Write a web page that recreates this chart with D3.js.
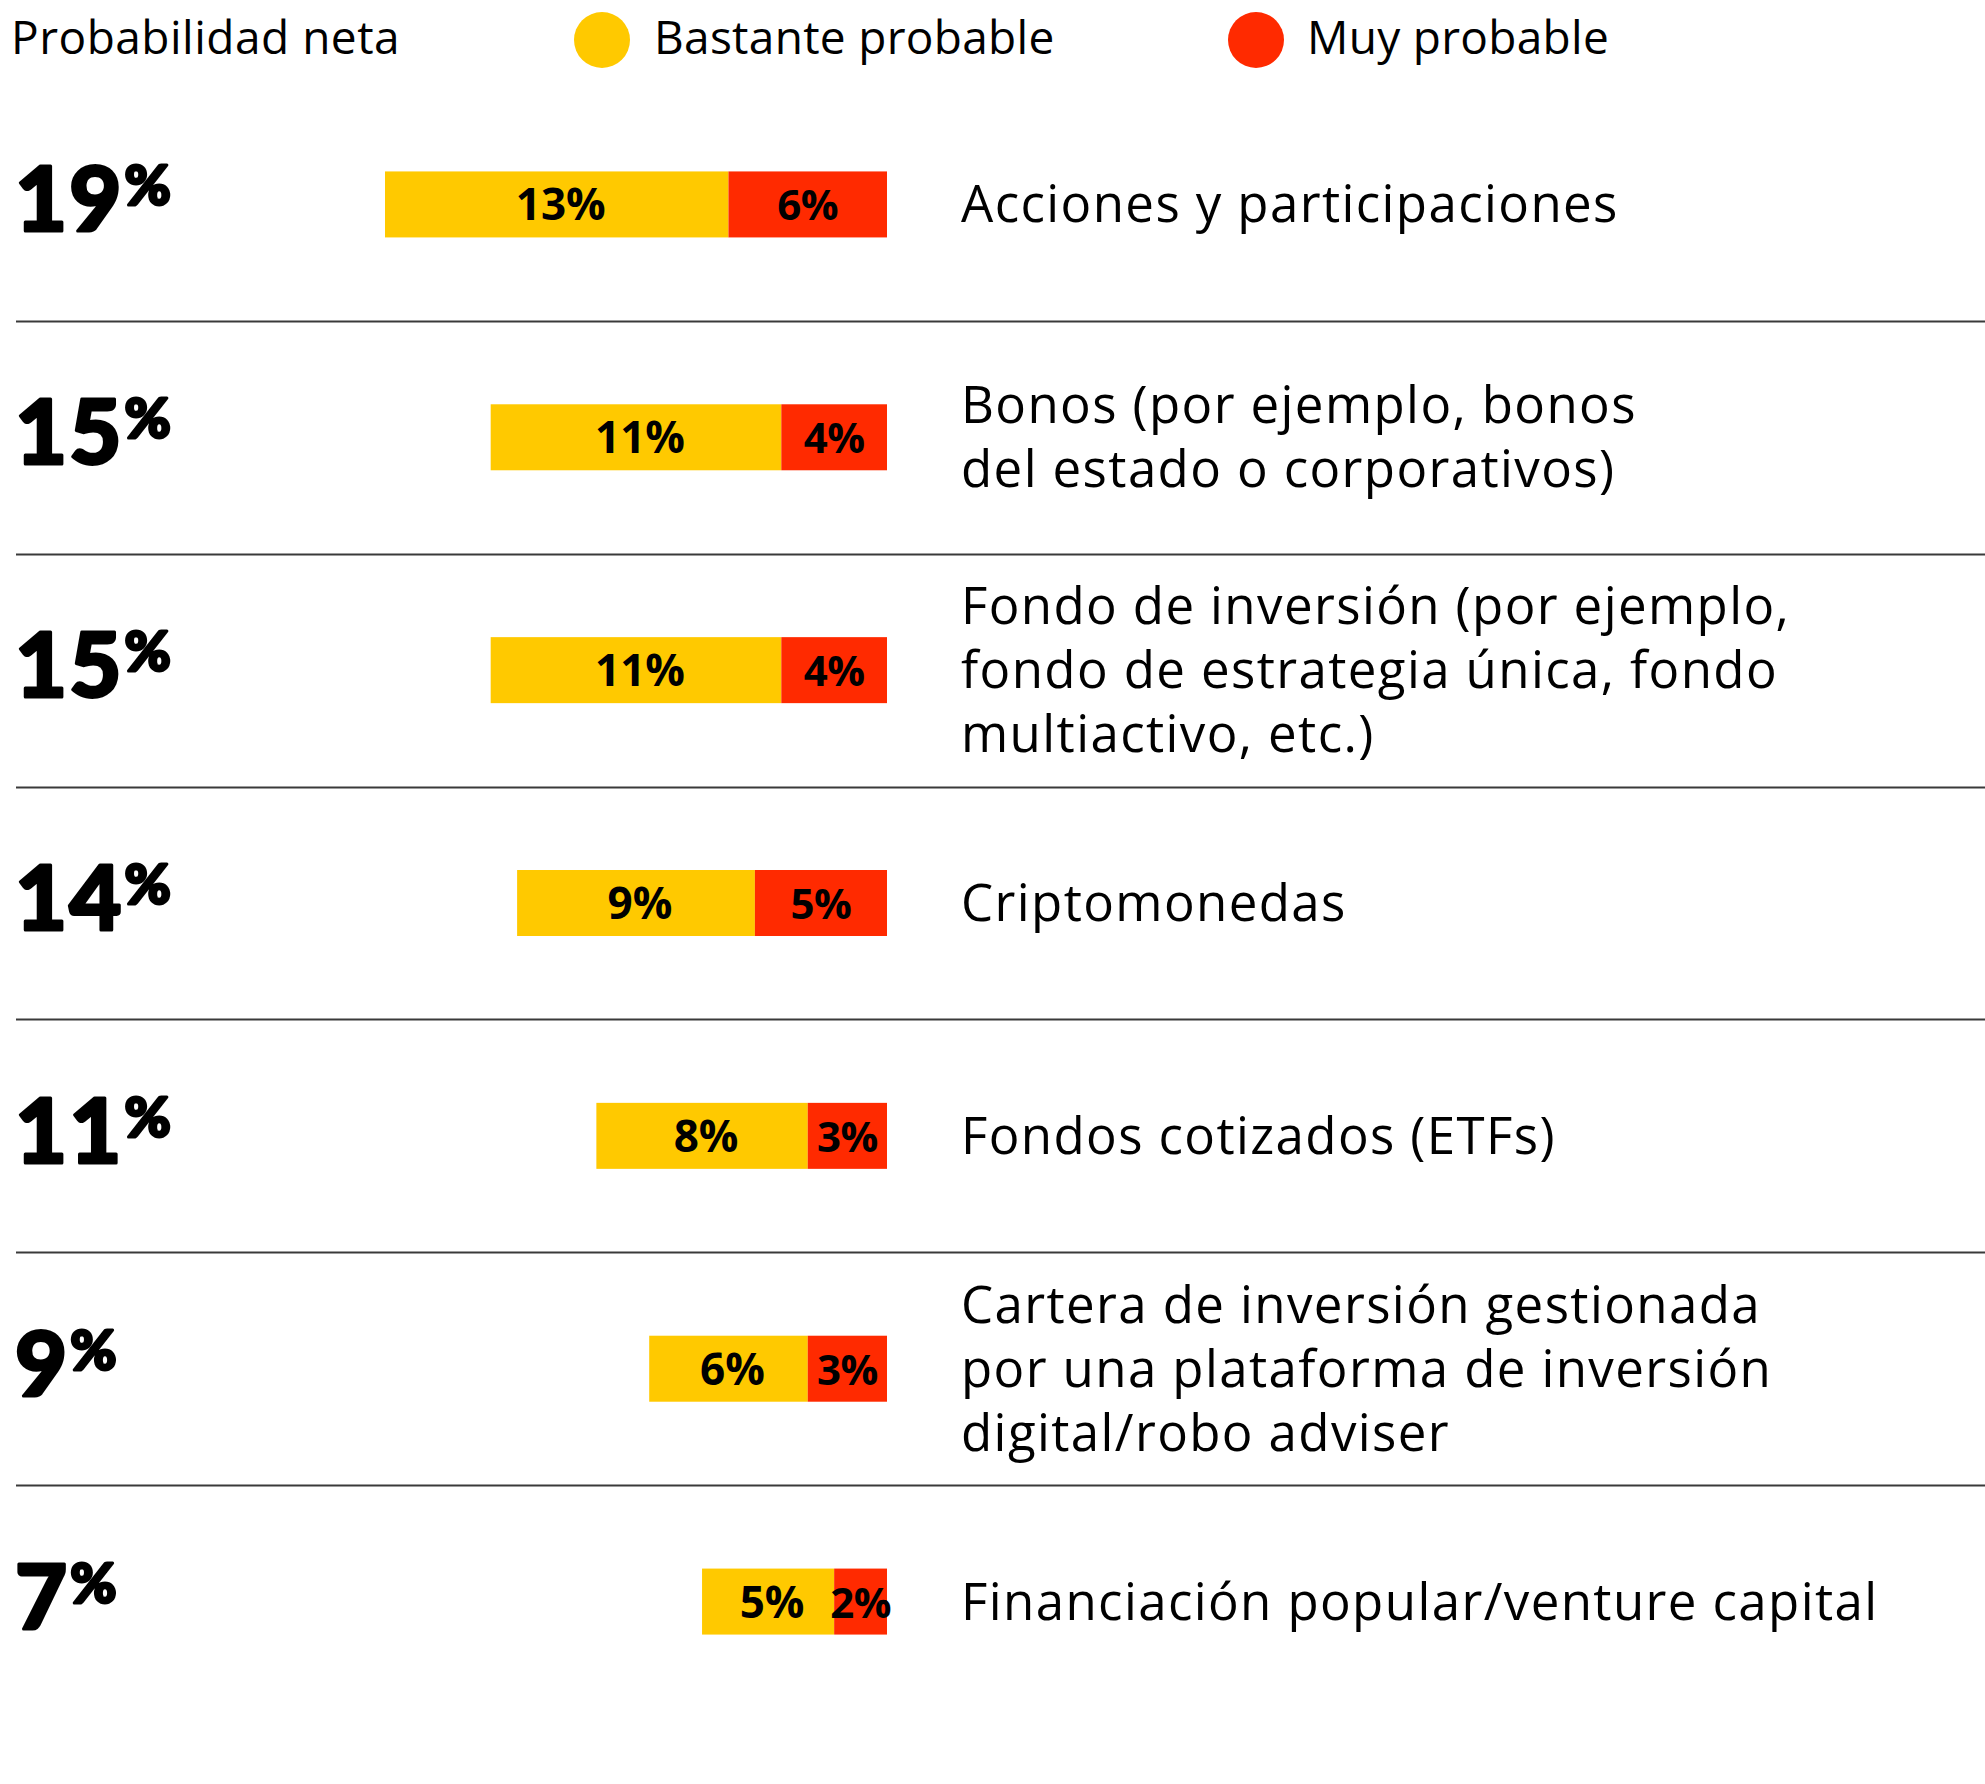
<!DOCTYPE html>
<html>
<head>
<meta charset="utf-8">
<script src="https://cdn.jsdelivr.net/npm/d3@7"></script>
<style>
  html, body { margin: 0; padding: 0; background: #fff; }
  svg { display: block; }
</style>
</head>
<body>
<svg id="chart" width="1985" height="1784"></svg>
<script>
// ---- data ----
const categories = [
  "Acciones y participaciones",
  "Bonos (por ejemplo, bonos|del estado o corporativos)",
  "Fondo de inversión (por ejemplo,|fondo de estrategia única, fondo|multiactivo, etc.)",
  "Criptomonedas",
  "Fondos cotizados (ETFs)",
  "Cartera de inversión gestionada|por una plataforma de inversión|digital/robo adviser",
  "Financiación popular/venture capital"
];
const netValues      = [19, 15, 15, 14, 11, 9, 7];
const bastanteValues = [13, 11, 11, 9, 8, 6, 5];
const muyValues      = [6, 4, 4, 5, 3, 3, 2];
const seriesNames = ["Bastante probable", "Muy probable"];
const legendTitle = "Probabilidad neta";

// ---- styles ----
const YELLOW = "#FFC900";
const RED = "#FF2A00";
const FONT = "'Open Sans', 'Noto Sans', sans-serif";

const svg = d3.select("#chart");

const barRight = 887;
const x = d3.scaleLinear().domain([0, 19]).range([barRight, barRight - 502]);
const y = d3.scaleBand().domain(categories).range([88, 1718]).paddingInner(0).paddingOuter(0);
const barH = 66;

const rows = categories.map((c, i) => ({
  cat: c, lines: c.split("|"), net: netValues[i], b: bastanteValues[i], m: muyValues[i], i
}));

// legend
svg.append("text").attr("x", 11).attr("y", 54)
  .attr("font-family", FONT).attr("font-size", 46).attr("letter-spacing", 0.5).attr("fill", "#000")
  .text(legendTitle);
const legendItems = [
  { name: seriesNames[0], color: YELLOW, cx: 602, tx: 654 },
  { name: seriesNames[1], color: RED, cx: 1256, tx: 1307 }
];
const lg = svg.append("g").selectAll("g").data(legendItems).join("g");
lg.append("circle").attr("cx", d => d.cx).attr("cy", 40).attr("r", 28).attr("fill", d => d.color);
lg.append("text").attr("x", d => d.tx).attr("y", 54)
  .attr("font-family", FONT).attr("font-size", 46).attr("letter-spacing", 0.3).attr("fill", "#000")
  .text(d => d.name);

// separators
svg.append("g").selectAll("line").data(categories.slice(1)).join("line")
  .attr("x1", 16).attr("x2", 1985)
  .attr("y1", d => Math.round(y(d)) + 0.5).attr("y2", d => Math.round(y(d)) + 0.5)
  .attr("stroke", "#3a3a3a").attr("stroke-width", 2);

const g = svg.append("g").selectAll("g").data(rows).join("g");
const cy = d => y(d.cat) + y.bandwidth() / 2;

// yellow bars
g.append("rect")
  .attr("x", d => x(d.b + d.m)).attr("width", d => x(d.m) - x(d.b + d.m))
  .attr("y", d => cy(d) - barH / 2).attr("height", barH).attr("fill", YELLOW);
// red bars
g.append("rect")
  .attr("x", d => x(d.m)).attr("width", d => x(0) - x(d.m))
  .attr("y", d => cy(d) - barH / 2).attr("height", barH).attr("fill", RED);

// bar value labels
g.append("text")
  .attr("x", d => (x(d.b + d.m) + x(d.m)) / 2 + 4).attr("y", d => cy(d) + 16)
  .attr("text-anchor", "middle").attr("font-family", FONT).attr("font-weight", 700)
  .attr("font-size", 44).attr("fill", "#000")
  .text(d => d.b + "%");
g.append("text")
  .attr("x", d => (x(d.m) + x(0)) / 2).attr("y", d => cy(d) + 16)
  .attr("text-anchor", "middle").attr("font-family", FONT).attr("font-weight", 700)
  .attr("font-size", 42).attr("letter-spacing", -0.5).attr("fill", "#000")
  .text(d => d.m + "%");

// net big numbers
const net = g.append("text")
  .attr("x", 15).attr("y", d => cy(d) + barH / 2 - 6)
  .attr("font-family", "Lato, 'Open Sans', sans-serif").attr("font-weight", 900)
  .attr("fill", "#000").attr("stroke", "#000").attr("stroke-width", 3)
  .attr("stroke-linejoin", "round");
net.append("tspan").attr("font-size", 90).attr("letter-spacing", 2).text(d => d.net);
net.append("tspan").attr("font-size", 56).attr("dx", 1).attr("dy", -26).text("%");

// category labels
const lineH = 64;
const lbl = g.append("text").attr("font-family", FONT).attr("font-size", 51)
  .attr("letter-spacing", 1.4).attr("fill", "#000");
lbl.selectAll("tspan").data(d => d.lines.map((t, k) => ({ t, k, n: d.lines.length, c: cy(d) })))
  .join("tspan")
  .attr("x", 961)
  .attr("y", d => d.c + 18 + (d.k - (d.n - 1) / 2) * lineH)
  .text(d => d.t);
</script>
</body>
</html>
